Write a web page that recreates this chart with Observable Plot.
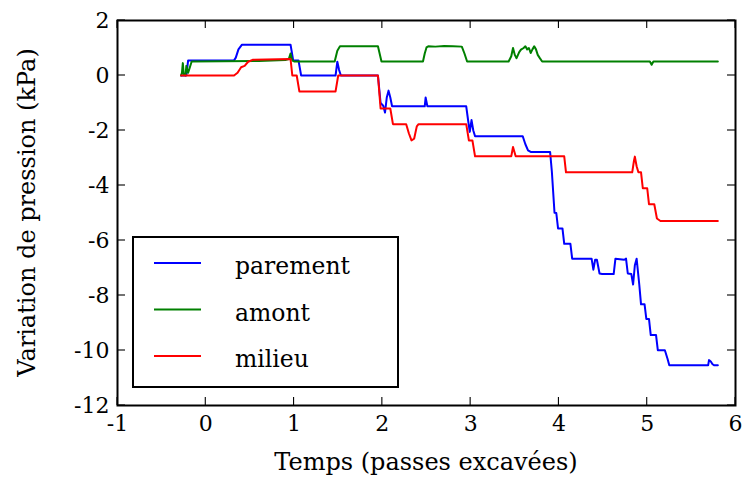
<!DOCTYPE html>
<html>
<head>
<meta charset="utf-8">
<script src="https://cdn.jsdelivr.net/npm/d3@7"></script>
<script src="https://cdn.jsdelivr.net/npm/@observablehq/plot@0.6"></script>
<style>
  html, body { margin: 0; padding: 0; background: #fff; }
  #chart { width: 742px; height: 480px; }
</style>
</head>
<body>
<div id="chart"></div>
<script>
// ---- data ----
const xTicks = [-1, 0, 1, 2, 3, 4, 5, 6];
const yTicks = [-12, -10, -8, -6, -4, -2, 0, 2];
const seriesNames = ["parement", "amont", "milieu"];
const seriesColors = ["#0000ff", "#008000", "#ff0000"];

const parement = [[-0.28,0],[-0.22,0],[-0.2,0.55],[0.32,0.55],[0.34,0.65],[0.37,0.95],[0.41,1.12],[0.96,1.12],[0.99,0.55],[1.05,0.55],[1.08,0],[1.47,0],[1.49,0.5],[1.51,0.2],[1.53,0],[1.95,0],[1.98,-1.0],[2.01,-1.1],[2.03,-1.35],[2.05,-0.8],[2.07,-0.55],[2.09,-0.8],[2.11,-1.12],[2.48,-1.12],[2.49,-0.8],[2.51,-1.12],[2.95,-1.12],[2.97,-1.6],[2.99,-2.05],[3.01,-1.62],[3.03,-2.0],[3.05,-2.21],[3.59,-2.21],[3.62,-2.5],[3.65,-2.72],[3.68,-2.78],[3.90,-2.78],[3.92,-3.5],[3.95,-4.99],[3.97,-5.0],[3.99,-5.56],[4.04,-5.56],[4.06,-6.12],[4.13,-6.12],[4.15,-6.66],[4.37,-6.66],[4.39,-7.06],[4.41,-6.7],[4.43,-6.7],[4.46,-7.2],[4.49,-7.22],[4.62,-7.22],[4.64,-6.66],[4.74,-6.7],[4.76,-6.66],[4.78,-7.2],[4.82,-7.22],[4.84,-7.6],[4.86,-6.9],[4.88,-6.66],[4.91,-7.6],[4.93,-8.32],[4.97,-8.32],[4.99,-8.85],[5.02,-8.85],[5.04,-9.44],[5.10,-9.44],[5.12,-9.99],[5.20,-9.99],[5.23,-10.3],[5.25,-10.54],[5.69,-10.54],[5.70,-10.35],[5.72,-10.4],[5.74,-10.5],[5.76,-10.54],[5.80,-10.54]];

const amont = [[-0.28,0],[-0.27,0.1],[-0.26,0.45],[-0.25,0.05],[-0.23,0],[-0.22,0.35],[-0.20,0.1],[-0.18,0.3],[-0.16,0.51],[0.6,0.53],[0.9,0.56],[0.94,0.6],[0.96,0.8],[0.98,0.55],[1.0,0.51],[1.46,0.51],[1.49,0.9],[1.52,1.06],[1.95,1.06],[1.99,0.51],[2.46,0.51],[2.48,0.8],[2.50,1.02],[2.52,1.06],[2.6,1.05],[2.7,1.07],[2.8,1.06],[2.9,1.05],[2.93,0.8],[2.96,0.51],[3.43,0.51],[3.46,0.7],[3.48,1.0],[3.50,0.75],[3.52,0.63],[3.55,0.85],[3.57,0.94],[3.60,1.0],[3.62,1.06],[3.64,0.95],[3.66,1.0],[3.68,0.82],[3.70,0.95],[3.72,1.06],[3.74,0.95],[3.76,0.75],[3.78,0.65],[3.81,0.51],[5.03,0.51],[5.05,0.39],[5.07,0.51],[5.80,0.51]];

const milieu = [[-0.28,0],[0.32,0],[0.36,0.1],[0.40,0.3],[0.44,0.35],[0.48,0.5],[0.53,0.57],[0.96,0.6],[0.98,0],[1.03,0],[1.06,-0.58],[1.47,-0.58],[1.50,0],[1.95,0],[1.98,-1.2],[2.09,-1.2],[2.12,-1.77],[2.27,-1.77],[2.30,-2.1],[2.33,-2.36],[2.36,-2.3],[2.39,-1.85],[2.41,-1.77],[2.95,-1.77],[2.98,-2.36],[3.02,-2.36],[3.05,-2.94],[3.46,-2.94],[3.48,-2.6],[3.51,-2.94],[4.06,-2.94],[4.08,-3.52],[4.83,-3.52],[4.85,-3.1],[4.86,-2.95],[4.88,-3.3],[4.90,-3.52],[4.93,-3.52],[4.95,-4.1],[5.00,-4.1],[5.02,-4.68],[5.08,-4.68],[5.11,-5.2],[5.15,-5.29],[5.80,-5.29]];

const xLabel = "Temps (passes excavées)";
const yLabel = "Variation de pression (kPa)";

// ---- layout ----
const W = 742, H = 480;
const mL = 117, mR = 7, mT = 20, mB = 75;
const pw = W - mL - mR, ph = H - mT - mB;
const tickLen = 8;
const FONT = "DejaVu Serif";
const fs = 22;

const seriesData = [parement, amont, milieu];
const rows = [];
seriesData.forEach((arr, i) => arr.forEach(([t, v]) => rows.push({t, v, s: seriesNames[i]})));

const fmt = d => String(d);

const chart = Plot.plot({
  width: W, height: H,
  marginLeft: mL, marginRight: mR, marginTop: mT, marginBottom: mB,
  style: {background: "#fff", color: "#000"},
  x: {domain: [-1, 6], label: null},
  y: {domain: [-12, 2], label: null},
  color: {domain: seriesNames, range: seriesColors},
  marks: [
    Plot.line(rows, {x: "t", y: "v", z: "s", stroke: "s", strokeWidth: 2, curve: "linear"}),
    Plot.axisX(xTicks, {anchor: "bottom", tickSize: 0, tickPadding: 10, tickFormat: fmt, fontSize: fs, label: null}),
    Plot.axisY(yTicks, {anchor: "left", tickSize: 0, tickPadding: 8, tickFormat: fmt, fontSize: fs, label: null}),
    Plot.frame({stroke: "#000", strokeWidth: 2})
  ]
});

document.getElementById("chart").appendChild(chart);

const svg = d3.select(chart);
const sx = chart.scale("x"), sy = chart.scale("y");

// inward ticks on all four sides, positioned by Plot's scales
const tg = svg.append("g").attr("stroke", "#000").attr("stroke-width", 1.1);
xTicks.forEach(t => {
  const px = sx.apply(t);
  tg.append("line").attr("x1", px).attr("x2", px).attr("y1", mT + ph).attr("y2", mT + ph - tickLen);
  tg.append("line").attr("x1", px).attr("x2", px).attr("y1", mT).attr("y2", mT + tickLen);
});
yTicks.forEach(v => {
  const py = sy.apply(v);
  tg.append("line").attr("y1", py).attr("y2", py).attr("x1", mL).attr("x2", mL + tickLen);
  tg.append("line").attr("y1", py).attr("y2", py).attr("x1", mL + pw).attr("x2", mL + pw - tickLen);
});

// axis titles
svg.append("text")
  .attr("x", mL + pw / 2).attr("y", 470)
  .attr("text-anchor", "middle")
  .attr("font-size", 24)
  .attr("fill", "#000")
  .text(xLabel);
svg.append("text")
  .attr("transform", `translate(35,${mT + ph / 2}) rotate(-90)`)
  .attr("text-anchor", "middle")
  .attr("font-size", 24)
  .attr("fill", "#000")
  .text(yLabel);

// legend
const lg = svg.append("g");
lg.append("rect")
  .attr("x", 133).attr("y", 237).attr("width", 265).attr("height", 150)
  .attr("fill", "#fff").attr("stroke", "#000").attr("stroke-width", 2);
seriesNames.forEach((name, i) => {
  const cy = 263 + i * 46.5;
  lg.append("line")
    .attr("x1", 154).attr("x2", 201).attr("y1", cy).attr("y2", cy)
    .attr("stroke", seriesColors[i]).attr("stroke-width", 2);
  lg.append("text")
    .attr("x", 235).attr("y", cy + 11)
    .attr("text-anchor", "start")
    .attr("font-size", 23.5)
    .attr("fill", "#000")
    .text(name);
});

// serif font everywhere
svg.attr("font-family", FONT);
svg.selectAll("g").attr("font-family", null);
svg.selectAll("text").attr("font-family", FONT).style("font-family", FONT);
</script>
</body>
</html>
